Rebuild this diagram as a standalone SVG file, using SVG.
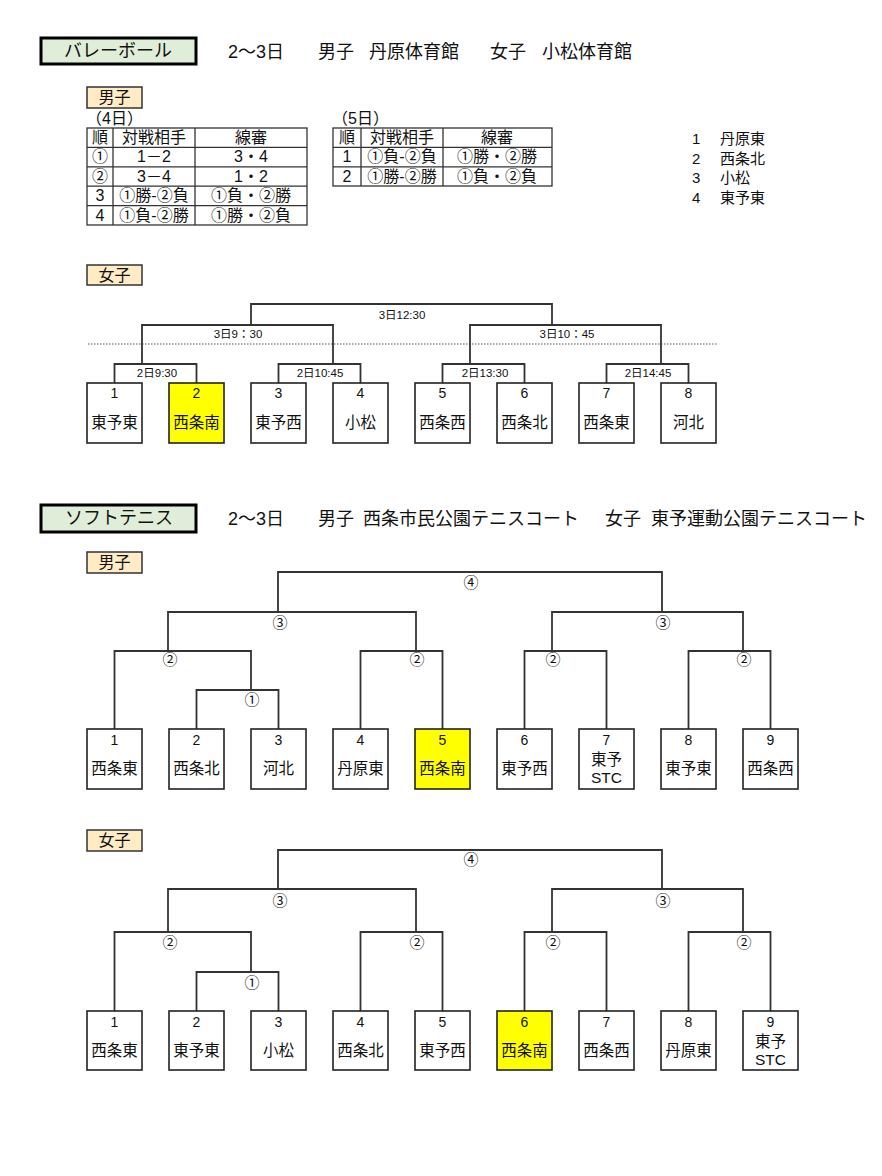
<svg xmlns="http://www.w3.org/2000/svg" width="882" height="1176" viewBox="0 0 882 1176">
<style>
text{font-family:"Liberation Sans","Noto Sans CJK JP",sans-serif;fill:#111}
.hd{font-size:18px}
.ttl{font-size:18px;text-anchor:middle}
.lbl{font-size:16px;text-anchor:middle}
.tb{font-size:16px;text-anchor:middle}
.leg{font-size:15px}
.sm{font-size:11.5px;text-anchor:middle}
.num{font-size:14px;text-anchor:middle}
.nm{font-size:15.5px;text-anchor:middle}
.cr{font-size:15px;text-anchor:middle}
.hbox{fill:#E0EDD8;stroke:#000;stroke-width:3}
.lbox{fill:#FFEBC4;stroke:#333;stroke-width:1.5}
.box{fill:#fff;stroke:#222;stroke-width:1.6}
.hl{fill:#FFFF00}
.ln{fill:none;stroke:#333;stroke-width:1.8}
.tl{fill:none;stroke:#333;stroke-width:1.3}
.dot{stroke:#555;stroke-width:1.2;stroke-dasharray:1.5 1.5}
</style>

<!-- Volleyball header -->
<g id="vb-header">
<rect class="hbox" x="41" y="38" width="155" height="26"/>
<text class="ttl" x="118" y="57">バレーボール</text>
<text class="hd" x="228" y="58">2～3日</text>
<text class="hd" x="318" y="58">男子</text>
<text class="hd" x="369" y="58">丹原体育館</text>
<text class="hd" x="490" y="58">女子</text>
<text class="hd" x="542" y="58">小松体育館</text>
</g>

<g id="vb-men-label">
<rect class="lbox" x="87" y="87" width="55" height="21"/>
<text class="lbl" x="114.5" y="103">男子</text>
</g>

<g id="vb-table-4">
<text class="tb" x="86" y="124" style="text-anchor:start">（4日）</text>
<rect class="tl" x="87" y="128" width="220" height="97"/>
<path class="tl" d="M113 128V225M195 128V225M87 147.4H307M87 166.8H307M87 186.2H307M87 205.6H307"/>
<text class="tb" x="100" y="143">順</text><text class="tb" x="154" y="143">対戦相手</text><text class="tb" x="251" y="143">線審</text>
<text class="tb" x="100" y="162">①</text><text class="tb" x="154" y="162">1－2</text><text class="tb" x="251" y="162">3・4</text>
<text class="tb" x="100" y="182">②</text><text class="tb" x="154" y="182">3－4</text><text class="tb" x="251" y="182">1・2</text>
<text class="tb" x="100" y="201">3</text><text class="tb" x="154" y="201">①勝-②負</text><text class="tb" x="251" y="201">①負・②勝</text>
<text class="tb" x="100" y="221">4</text><text class="tb" x="154" y="221">①負-②勝</text><text class="tb" x="251" y="221">①勝・②負</text>
</g>

<g id="vb-table-5">
<text class="tb" x="332" y="124" style="text-anchor:start">（5日）</text>
<rect class="tl" x="333" y="128" width="219" height="58"/>
<path class="tl" d="M361 128V186M443 128V186M333 147.4H552M333 166.8H552"/>
<text class="tb" x="347" y="143">順</text><text class="tb" x="402" y="143">対戦相手</text><text class="tb" x="497" y="143">線審</text>
<text class="tb" x="347" y="162">1</text><text class="tb" x="402" y="162">①負-②負</text><text class="tb" x="497" y="162">①勝・②勝</text>
<text class="tb" x="347" y="182">2</text><text class="tb" x="402" y="182">①勝-②勝</text><text class="tb" x="497" y="182">①負・②負</text>
</g>

<g id="vb-legend">
<text class="leg" x="692" y="144">1</text><text class="leg" x="720" y="144">丹原東</text>
<text class="leg" x="692" y="164">2</text><text class="leg" x="720" y="164">西条北</text>
<text class="leg" x="692" y="183">3</text><text class="leg" x="720" y="183">小松</text>
<text class="leg" x="692" y="203">4</text><text class="leg" x="720" y="203">東予東</text>
</g>

<g id="vb-women-label">
<rect class="lbox" x="87" y="265" width="55" height="20"/>
<text class="lbl" x="114.5" y="281">女子</text>
</g>

<g id="vb-women-connectors">
<line class="dot" x1="88" y1="344" x2="717" y2="344"/>
<path class="ln" d="M114.5 383V364H196.5V383M278.5 383V364H360.5V383M442.5 383V364H524.5V383M606.5 383V364H688.5V383"/>
<path class="ln" d="M142 364V325H333V364M470 364V325H661V364"/>
<path class="ln" d="M251 325V304H552V325"/>
<text class="sm" x="402" y="319">3日12:30</text>
<text class="sm" x="238" y="338">3日9：30</text>
<text class="sm" x="567" y="338">3日10：45</text>
<text class="sm" x="157" y="377">2日9:30</text>
<text class="sm" x="320" y="377">2日10:45</text>
<text class="sm" x="485" y="377">2日13:30</text>
<text class="sm" x="648" y="377">2日14:45</text>
</g>

<g id="vb-w1"><rect class="box" x="87" y="383" width="55" height="60"/><text class="num" x="114.5" y="398">1</text><text class="nm" x="114.5" y="428">東予東</text></g>
<g id="vb-w2"><rect class="box hl" x="169" y="383" width="55" height="60"/><text class="num" x="196.5" y="398">2</text><text class="nm" x="196.5" y="428">西条南</text></g>
<g id="vb-w3"><rect class="box" x="251" y="383" width="55" height="60"/><text class="num" x="278.5" y="398">3</text><text class="nm" x="278.5" y="428">東予西</text></g>
<g id="vb-w4"><rect class="box" x="333" y="383" width="55" height="60"/><text class="num" x="360.5" y="398">4</text><text class="nm" x="360.5" y="428">小松</text></g>
<g id="vb-w5"><rect class="box" x="415" y="383" width="55" height="60"/><text class="num" x="442.5" y="398">5</text><text class="nm" x="442.5" y="428">西条西</text></g>
<g id="vb-w6"><rect class="box" x="497" y="383" width="55" height="60"/><text class="num" x="524.5" y="398">6</text><text class="nm" x="524.5" y="428">西条北</text></g>
<g id="vb-w7"><rect class="box" x="579" y="383" width="55" height="60"/><text class="num" x="606.5" y="398">7</text><text class="nm" x="606.5" y="428">西条東</text></g>
<g id="vb-w8"><rect class="box" x="661" y="383" width="55" height="60"/><text class="num" x="688.5" y="398">8</text><text class="nm" x="688.5" y="428">河北</text></g>

<!-- Soft tennis header -->
<g id="st-header">
<rect class="hbox" x="41" y="505" width="155" height="27"/>
<text class="ttl" x="119" y="524">ソフトテニス</text>
<text class="hd" x="228" y="525">2～3日</text>
<text class="hd" x="318" y="525">男子</text>
<text class="hd" x="363" y="525">西条市民公園テニスコート</text>
<text class="hd" x="605" y="525">女子</text>
<text class="hd" x="651" y="525">東予運動公園テニスコート</text>
</g>

<g id="st-men-label">
<rect class="lbox" x="87" y="552" width="55" height="21"/>
<text class="lbl" x="114.5" y="568">男子</text>
</g>

<g id="st-men-connectors">
<path class="ln" d="M114.5 729V651H251V690"/>
<path class="ln" d="M196.5 729V690H278.5V729"/>
<path class="ln" d="M360.5 729V651H442.5V729M524.5 729V651H606.5V729M688.5 729V651H770.5V729"/>
<path class="ln" d="M168 651V612H416V651M552 651V612H743V651"/>
<path class="ln" d="M278 612V572H662V612"/>
<text class="cr" x="471" y="588">④</text>
<text class="cr" x="280" y="628">③</text>
<text class="cr" x="663" y="628">③</text>
<text class="cr" x="170" y="665">②</text>
<text class="cr" x="417" y="665">②</text>
<text class="cr" x="553" y="665">②</text>
<text class="cr" x="744" y="665">②</text>
<text class="cr" x="252" y="705">①</text>
</g>

<g id="st-m1"><rect class="box" x="87" y="729" width="55" height="60"/><text class="num" x="114.5" y="745">1</text><text class="nm" x="114.5" y="774">西条東</text></g>
<g id="st-m2"><rect class="box" x="169" y="729" width="55" height="60"/><text class="num" x="196.5" y="745">2</text><text class="nm" x="196.5" y="774">西条北</text></g>
<g id="st-m3"><rect class="box" x="251" y="729" width="55" height="60"/><text class="num" x="278.5" y="745">3</text><text class="nm" x="278.5" y="774">河北</text></g>
<g id="st-m4"><rect class="box" x="333" y="729" width="55" height="60"/><text class="num" x="360.5" y="745">4</text><text class="nm" x="360.5" y="774">丹原東</text></g>
<g id="st-m5"><rect class="box hl" x="415" y="729" width="55" height="60"/><text class="num" x="442.5" y="745">5</text><text class="nm" x="442.5" y="774">西条南</text></g>
<g id="st-m6"><rect class="box" x="497" y="729" width="55" height="60"/><text class="num" x="524.5" y="745">6</text><text class="nm" x="524.5" y="774">東予西</text></g>
<g id="st-m7"><rect class="box" x="579" y="729" width="55" height="60"/><text class="num" x="606.5" y="745">7</text><text class="nm" x="606.5" y="765">東予</text><text class="nm" x="606.5" y="783">STC</text></g>
<g id="st-m8"><rect class="box" x="661" y="729" width="55" height="60"/><text class="num" x="688.5" y="745">8</text><text class="nm" x="688.5" y="774">東予東</text></g>
<g id="st-m9"><rect class="box" x="743" y="729" width="55" height="60"/><text class="num" x="770.5" y="745">9</text><text class="nm" x="770.5" y="774">西条西</text></g>

<g id="st-women-label">
<rect class="lbox" x="87" y="830" width="55" height="21"/>
<text class="lbl" x="114.5" y="846">女子</text>
</g>

<g id="st-women-connectors">
<path class="ln" d="M114.5 1011V932H251V972"/>
<path class="ln" d="M196.5 1011V972H278.5V1011"/>
<path class="ln" d="M360.5 1011V932H442.5V1011M524.5 1011V932H606.5V1011M688.5 1011V932H770.5V1011"/>
<path class="ln" d="M168 932V889H416V932M552 932V889H743V932"/>
<path class="ln" d="M278 889V850H662V889"/>
<text class="cr" x="471" y="865">④</text>
<text class="cr" x="280" y="906">③</text>
<text class="cr" x="663" y="906">③</text>
<text class="cr" x="170" y="948">②</text>
<text class="cr" x="417" y="948">②</text>
<text class="cr" x="553" y="948">②</text>
<text class="cr" x="744" y="948">②</text>
<text class="cr" x="252" y="988">①</text>
</g>

<g id="st-w1"><rect class="box" x="87" y="1011" width="55" height="59"/><text class="num" x="114.5" y="1027">1</text><text class="nm" x="114.5" y="1056">西条東</text></g>
<g id="st-w2"><rect class="box" x="169" y="1011" width="55" height="59"/><text class="num" x="196.5" y="1027">2</text><text class="nm" x="196.5" y="1056">東予東</text></g>
<g id="st-w3"><rect class="box" x="251" y="1011" width="55" height="59"/><text class="num" x="278.5" y="1027">3</text><text class="nm" x="278.5" y="1056">小松</text></g>
<g id="st-w4"><rect class="box" x="333" y="1011" width="55" height="59"/><text class="num" x="360.5" y="1027">4</text><text class="nm" x="360.5" y="1056">西条北</text></g>
<g id="st-w5"><rect class="box" x="415" y="1011" width="55" height="59"/><text class="num" x="442.5" y="1027">5</text><text class="nm" x="442.5" y="1056">東予西</text></g>
<g id="st-w6"><rect class="box hl" x="497" y="1011" width="55" height="59"/><text class="num" x="524.5" y="1027">6</text><text class="nm" x="524.5" y="1056">西条南</text></g>
<g id="st-w7"><rect class="box" x="579" y="1011" width="55" height="59"/><text class="num" x="606.5" y="1027">7</text><text class="nm" x="606.5" y="1056">西条西</text></g>
<g id="st-w8"><rect class="box" x="661" y="1011" width="55" height="59"/><text class="num" x="688.5" y="1027">8</text><text class="nm" x="688.5" y="1056">丹原東</text></g>
<g id="st-w9"><rect class="box" x="743" y="1011" width="55" height="59"/><text class="num" x="770.5" y="1027">9</text><text class="nm" x="770.5" y="1047">東予</text><text class="nm" x="770.5" y="1065">STC</text></g>
</svg>
